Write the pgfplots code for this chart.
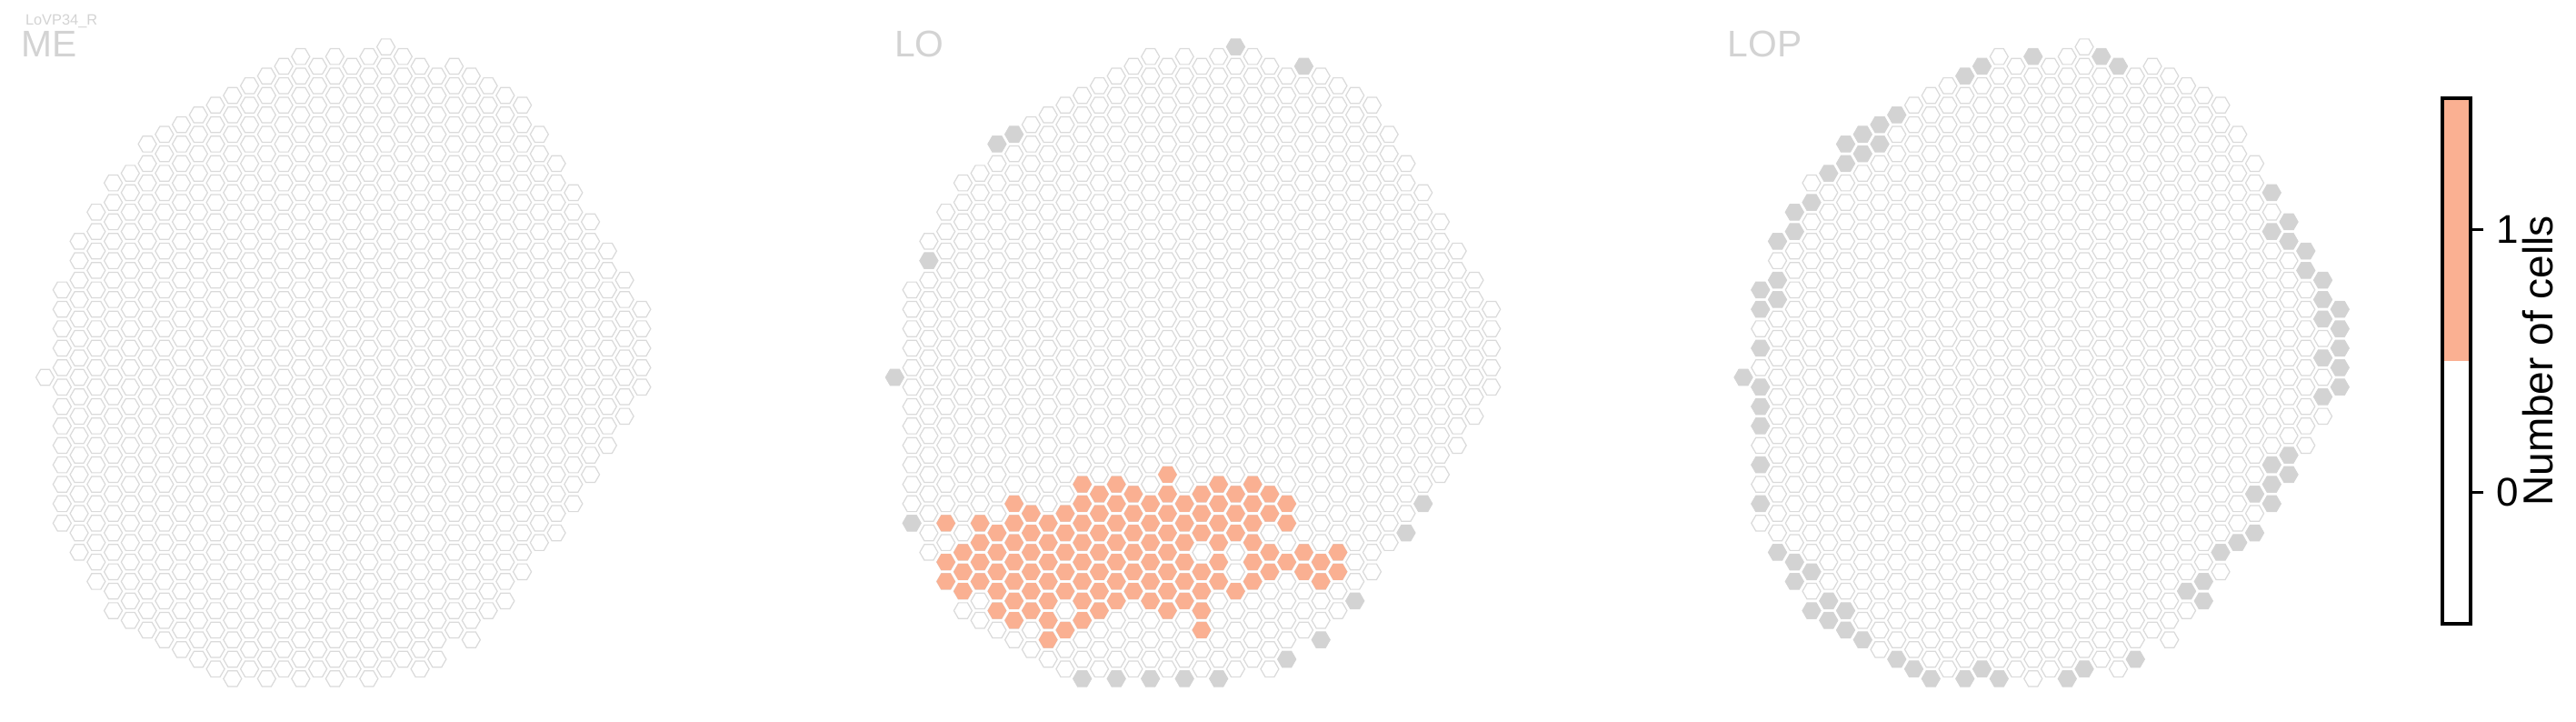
\documentclass[border=0pt]{standalone}
\usepackage{fontspec}
\setmainfont{Liberation Sans}
\usepackage{pgfplots}
\pgfplotsset{compat=1.18}
\usepackage{pgfplotstable}
\definecolor{salmon}{RGB}{250,176,146}
\definecolor{cgray}{RGB}{211,211,211}
\definecolor{hexedge}{RGB}{218,218,218}
\definecolor{titlegray}{RGB}{211,211,211}

\pgfdeclareplotmark{hexo}{%
 \pgfpathmoveto{\pgfqpoint{\pgfplotmarksize}{0pt}}%
 \pgfpathlineto{\pgfqpoint{0.5\pgfplotmarksize}{0.8660254\pgfplotmarksize}}%
 \pgfpathlineto{\pgfqpoint{-0.5\pgfplotmarksize}{0.8660254\pgfplotmarksize}}%
 \pgfpathlineto{\pgfqpoint{-\pgfplotmarksize}{0pt}}%
 \pgfpathlineto{\pgfqpoint{-0.5\pgfplotmarksize}{-0.8660254\pgfplotmarksize}}%
 \pgfpathlineto{\pgfqpoint{0.5\pgfplotmarksize}{-0.8660254\pgfplotmarksize}}%
 \pgfpathclose
 \pgfusepathqfillstroke}
\pgfdeclareplotmark{hexf}{%
 \pgfpathmoveto{\pgfqpoint{\pgfplotmarksize}{0pt}}%
 \pgfpathlineto{\pgfqpoint{0.5\pgfplotmarksize}{0.8660254\pgfplotmarksize}}%
 \pgfpathlineto{\pgfqpoint{-0.5\pgfplotmarksize}{0.8660254\pgfplotmarksize}}%
 \pgfpathlineto{\pgfqpoint{-\pgfplotmarksize}{0pt}}%
 \pgfpathlineto{\pgfqpoint{-0.5\pgfplotmarksize}{-0.8660254\pgfplotmarksize}}%
 \pgfpathlineto{\pgfqpoint{0.5\pgfplotmarksize}{-0.8660254\pgfplotmarksize}}%
 \pgfpathclose
 \pgfusepathqfill}

% full column grid (column c, half-row h)
\pgfplotstableread[row sep=\\]{c h\\
0 0\\
1 9\\1 7\\1 5\\1 3\\1 1\\1 -1\\1 -3\\1 -5\\1 -7\\1 -9\\1 -11\\1 -13\\1 -15\\
2 14\\2 12\\2 10\\2 8\\2 6\\2 4\\2 2\\2 0\\2 -2\\2 -4\\2 -6\\2 -8\\2 -10\\2 -12\\2 -14\\2 -16\\2 -18\\
3 17\\3 15\\3 13\\3 11\\3 9\\3 7\\3 5\\3 3\\3 1\\3 -1\\3 -3\\3 -5\\3 -7\\3 -9\\3 -11\\3 -13\\3 -15\\3 -17\\3 -19\\3 -21\\
4 20\\4 18\\4 16\\4 14\\4 12\\4 10\\4 8\\4 6\\4 4\\4 2\\4 0\\4 -2\\4 -4\\4 -6\\4 -8\\4 -10\\4 -12\\4 -14\\4 -16\\4 -18\\4 -20\\4 -22\\4 -24\\
5 21\\5 19\\5 17\\5 15\\5 13\\5 11\\5 9\\5 7\\5 5\\5 3\\5 1\\5 -1\\5 -3\\5 -5\\5 -7\\5 -9\\5 -11\\5 -13\\5 -15\\5 -17\\5 -19\\5 -21\\5 -23\\5 -25\\
6 24\\6 22\\6 20\\6 18\\6 16\\6 14\\6 12\\6 10\\6 8\\6 6\\6 4\\6 2\\6 0\\6 -2\\6 -4\\6 -6\\6 -8\\6 -10\\6 -12\\6 -14\\6 -16\\6 -18\\6 -20\\6 -22\\6 -24\\6 -26\\
7 25\\7 23\\7 21\\7 19\\7 17\\7 15\\7 13\\7 11\\7 9\\7 7\\7 5\\7 3\\7 1\\7 -1\\7 -3\\7 -5\\7 -7\\7 -9\\7 -11\\7 -13\\7 -15\\7 -17\\7 -19\\7 -21\\7 -23\\7 -25\\7 -27\\
8 26\\8 24\\8 22\\8 20\\8 18\\8 16\\8 14\\8 12\\8 10\\8 8\\8 6\\8 4\\8 2\\8 0\\8 -2\\8 -4\\8 -6\\8 -8\\8 -10\\8 -12\\8 -14\\8 -16\\8 -18\\8 -20\\8 -22\\8 -24\\8 -26\\8 -28\\
9 27\\9 25\\9 23\\9 21\\9 19\\9 17\\9 15\\9 13\\9 11\\9 9\\9 7\\9 5\\9 3\\9 1\\9 -1\\9 -3\\9 -5\\9 -7\\9 -9\\9 -11\\9 -13\\9 -15\\9 -17\\9 -19\\9 -21\\9 -23\\9 -25\\9 -27\\9 -29\\
10 28\\10 26\\10 24\\10 22\\10 20\\10 18\\10 16\\10 14\\10 12\\10 10\\10 8\\10 6\\10 4\\10 2\\10 0\\10 -2\\10 -4\\10 -6\\10 -8\\10 -10\\10 -12\\10 -14\\10 -16\\10 -18\\10 -20\\10 -22\\10 -24\\10 -26\\10 -28\\10 -30\\
11 29\\11 27\\11 25\\11 23\\11 21\\11 19\\11 17\\11 15\\11 13\\11 11\\11 9\\11 7\\11 5\\11 3\\11 1\\11 -1\\11 -3\\11 -5\\11 -7\\11 -9\\11 -11\\11 -13\\11 -15\\11 -17\\11 -19\\11 -21\\11 -23\\11 -25\\11 -27\\11 -29\\11 -31\\
12 30\\12 28\\12 26\\12 24\\12 22\\12 20\\12 18\\12 16\\12 14\\12 12\\12 10\\12 8\\12 6\\12 4\\12 2\\12 0\\12 -2\\12 -4\\12 -6\\12 -8\\12 -10\\12 -12\\12 -14\\12 -16\\12 -18\\12 -20\\12 -22\\12 -24\\12 -26\\12 -28\\12 -30\\
13 31\\13 29\\13 27\\13 25\\13 23\\13 21\\13 19\\13 17\\13 15\\13 13\\13 11\\13 9\\13 7\\13 5\\13 3\\13 1\\13 -1\\13 -3\\13 -5\\13 -7\\13 -9\\13 -11\\13 -13\\13 -15\\13 -17\\13 -19\\13 -21\\13 -23\\13 -25\\13 -27\\13 -29\\13 -31\\
14 32\\14 30\\14 28\\14 26\\14 24\\14 22\\14 20\\14 18\\14 16\\14 14\\14 12\\14 10\\14 8\\14 6\\14 4\\14 2\\14 0\\14 -2\\14 -4\\14 -6\\14 -8\\14 -10\\14 -12\\14 -14\\14 -16\\14 -18\\14 -20\\14 -22\\14 -24\\14 -26\\14 -28\\14 -30\\
15 33\\15 31\\15 29\\15 27\\15 25\\15 23\\15 21\\15 19\\15 17\\15 15\\15 13\\15 11\\15 9\\15 7\\15 5\\15 3\\15 1\\15 -1\\15 -3\\15 -5\\15 -7\\15 -9\\15 -11\\15 -13\\15 -15\\15 -17\\15 -19\\15 -21\\15 -23\\15 -25\\15 -27\\15 -29\\15 -31\\
16 32\\16 30\\16 28\\16 26\\16 24\\16 22\\16 20\\16 18\\16 16\\16 14\\16 12\\16 10\\16 8\\16 6\\16 4\\16 2\\16 0\\16 -2\\16 -4\\16 -6\\16 -8\\16 -10\\16 -12\\16 -14\\16 -16\\16 -18\\16 -20\\16 -22\\16 -24\\16 -26\\16 -28\\16 -30\\
17 33\\17 31\\17 29\\17 27\\17 25\\17 23\\17 21\\17 19\\17 17\\17 15\\17 13\\17 11\\17 9\\17 7\\17 5\\17 3\\17 1\\17 -1\\17 -3\\17 -5\\17 -7\\17 -9\\17 -11\\17 -13\\17 -15\\17 -17\\17 -19\\17 -21\\17 -23\\17 -25\\17 -27\\17 -29\\17 -31\\
18 32\\18 30\\18 28\\18 26\\18 24\\18 22\\18 20\\18 18\\18 16\\18 14\\18 12\\18 10\\18 8\\18 6\\18 4\\18 2\\18 0\\18 -2\\18 -4\\18 -6\\18 -8\\18 -10\\18 -12\\18 -14\\18 -16\\18 -18\\18 -20\\18 -22\\18 -24\\18 -26\\18 -28\\18 -30\\
19 33\\19 31\\19 29\\19 27\\19 25\\19 23\\19 21\\19 19\\19 17\\19 15\\19 13\\19 11\\19 9\\19 7\\19 5\\19 3\\19 1\\19 -1\\19 -3\\19 -5\\19 -7\\19 -9\\19 -11\\19 -13\\19 -15\\19 -17\\19 -19\\19 -21\\19 -23\\19 -25\\19 -27\\19 -29\\19 -31\\
20 34\\20 32\\20 30\\20 28\\20 26\\20 24\\20 22\\20 20\\20 18\\20 16\\20 14\\20 12\\20 10\\20 8\\20 6\\20 4\\20 2\\20 0\\20 -2\\20 -4\\20 -6\\20 -8\\20 -10\\20 -12\\20 -14\\20 -16\\20 -18\\20 -20\\20 -22\\20 -24\\20 -26\\20 -28\\20 -30\\
21 33\\21 31\\21 29\\21 27\\21 25\\21 23\\21 21\\21 19\\21 17\\21 15\\21 13\\21 11\\21 9\\21 7\\21 5\\21 3\\21 1\\21 -1\\21 -3\\21 -5\\21 -7\\21 -9\\21 -11\\21 -13\\21 -15\\21 -17\\21 -19\\21 -21\\21 -23\\21 -25\\21 -27\\21 -29\\
22 32\\22 30\\22 28\\22 26\\22 24\\22 22\\22 20\\22 18\\22 16\\22 14\\22 12\\22 10\\22 8\\22 6\\22 4\\22 2\\22 0\\22 -2\\22 -4\\22 -6\\22 -8\\22 -10\\22 -12\\22 -14\\22 -16\\22 -18\\22 -20\\22 -22\\22 -24\\22 -26\\22 -28\\22 -30\\
23 31\\23 29\\23 27\\23 25\\23 23\\23 21\\23 19\\23 17\\23 15\\23 13\\23 11\\23 9\\23 7\\23 5\\23 3\\23 1\\23 -1\\23 -3\\23 -5\\23 -7\\23 -9\\23 -11\\23 -13\\23 -15\\23 -17\\23 -19\\23 -21\\23 -23\\23 -25\\23 -27\\23 -29\\
24 32\\24 30\\24 28\\24 26\\24 24\\24 22\\24 20\\24 18\\24 16\\24 14\\24 12\\24 10\\24 8\\24 6\\24 4\\24 2\\24 0\\24 -2\\24 -4\\24 -6\\24 -8\\24 -10\\24 -12\\24 -14\\24 -16\\24 -18\\24 -20\\24 -22\\24 -24\\24 -26\\
25 31\\25 29\\25 27\\25 25\\25 23\\25 21\\25 19\\25 17\\25 15\\25 13\\25 11\\25 9\\25 7\\25 5\\25 3\\25 1\\25 -1\\25 -3\\25 -5\\25 -7\\25 -9\\25 -11\\25 -13\\25 -15\\25 -17\\25 -19\\25 -21\\25 -23\\25 -25\\25 -27\\
26 30\\26 28\\26 26\\26 24\\26 22\\26 20\\26 18\\26 16\\26 14\\26 12\\26 10\\26 8\\26 6\\26 4\\26 2\\26 0\\26 -2\\26 -4\\26 -6\\26 -8\\26 -10\\26 -12\\26 -14\\26 -16\\26 -18\\26 -20\\26 -22\\26 -24\\
27 29\\27 27\\27 25\\27 23\\27 21\\27 19\\27 17\\27 15\\27 13\\27 11\\27 9\\27 7\\27 5\\27 3\\27 1\\27 -1\\27 -3\\27 -5\\27 -7\\27 -9\\27 -11\\27 -13\\27 -15\\27 -17\\27 -19\\27 -21\\27 -23\\
28 28\\28 26\\28 24\\28 22\\28 20\\28 18\\28 16\\28 14\\28 12\\28 10\\28 8\\28 6\\28 4\\28 2\\28 0\\28 -2\\28 -4\\28 -6\\28 -8\\28 -10\\28 -12\\28 -14\\28 -16\\28 -18\\28 -20\\
29 25\\29 23\\29 21\\29 19\\29 17\\29 15\\29 13\\29 11\\29 9\\29 7\\29 5\\29 3\\29 1\\29 -1\\29 -3\\29 -5\\29 -7\\29 -9\\29 -11\\29 -13\\29 -15\\29 -17\\
30 22\\30 20\\30 18\\30 16\\30 14\\30 12\\30 10\\30 8\\30 6\\30 4\\30 2\\30 0\\30 -2\\30 -4\\30 -6\\30 -8\\30 -10\\30 -12\\30 -14\\30 -16\\
31 19\\31 17\\31 15\\31 13\\31 11\\31 9\\31 7\\31 5\\31 3\\31 1\\31 -1\\31 -3\\31 -5\\31 -7\\31 -9\\31 -11\\31 -13\\
32 16\\32 14\\32 12\\32 10\\32 8\\32 6\\32 4\\32 2\\32 0\\32 -2\\32 -4\\32 -6\\32 -8\\32 -10\\
33 13\\33 11\\33 9\\33 7\\33 5\\33 3\\33 1\\33 -1\\33 -3\\33 -5\\33 -7\\
34 10\\34 8\\34 6\\34 4\\34 2\\34 0\\34 -2\\34 -4\\
35 7\\35 5\\35 3\\35 1\\35 -1\\
}\gridtab

% LO: columns with one cell
\pgfplotstableread[row sep=\\]{c h\\
16 -10\\
11 -11\\13 -11\\19 -11\\21 -11\\
12 -12\\14 -12\\16 -12\\18 -12\\20 -12\\22 -12\\
7 -13\\11 -13\\13 -13\\15 -13\\17 -13\\19 -13\\21 -13\\23 -13\\
8 -14\\10 -14\\12 -14\\14 -14\\16 -14\\18 -14\\20 -14\\22 -14\\
3 -15\\5 -15\\7 -15\\9 -15\\11 -15\\13 -15\\15 -15\\17 -15\\19 -15\\21 -15\\23 -15\\
6 -16\\8 -16\\10 -16\\12 -16\\14 -16\\16 -16\\18 -16\\20 -16\\
5 -17\\7 -17\\9 -17\\11 -17\\13 -17\\15 -17\\17 -17\\19 -17\\21 -17\\
4 -18\\6 -18\\8 -18\\10 -18\\12 -18\\14 -18\\16 -18\\22 -18\\24 -18\\26 -18\\
3 -19\\5 -19\\7 -19\\9 -19\\11 -19\\13 -19\\15 -19\\17 -19\\19 -19\\21 -19\\23 -19\\25 -19\\
4 -20\\6 -20\\8 -20\\10 -20\\12 -20\\14 -20\\16 -20\\18 -20\\22 -20\\24 -20\\26 -20\\
3 -21\\5 -21\\7 -21\\9 -21\\11 -21\\13 -21\\15 -21\\17 -21\\19 -21\\21 -21\\25 -21\\
4 -22\\6 -22\\8 -22\\10 -22\\12 -22\\14 -22\\16 -22\\18 -22\\20 -22\\
7 -23\\9 -23\\11 -23\\13 -23\\15 -23\\17 -23\\
6 -24\\8 -24\\12 -24\\16 -24\\18 -24\\
7 -25\\9 -25\\11 -25\\
10 -26\\18 -26\\
9 -27\\
}\losalmon

% LO: columns outside the region
\pgfplotstableread[row sep=\\]{c h\\
20 34\\24 32\\7 25\\6 24\\2 12\\0 0\\1 -15\\31 -13\\30 -16\\27 -23\\25 -27\\23 -29\\
11 -31\\13 -31\\15 -31\\17 -31\\19 -31\\
}\logray

% LOP: columns outside the region
\pgfplotstableread[row sep=\\]{c h\\
17 33\\21 33\\22 32\\14 32\\13 31\\9 27\\8 26\\7 25\\6 24\\7 23\\8 24\\6 22\\5 21\\
4 18\\3 17\\3 15\\2 14\\2 10\\1 9\\2 8\\1 7\\1 3\\0 0\\1 -1\\1 -3\\1 -5\\1 -9\\1 -13\\
2 -18\\3 -19\\4 -20\\3 -21\\5 -23\\4 -24\\6 -24\\5 -25\\6 -26\\7 -27\\9 -29\\10 -30\\
11 -31\\13 -31\\14 -30\\15 -31\\19 -31\\20 -30\\23 -29\\
31 19\\32 16\\31 15\\32 14\\33 13\\33 11\\34 10\\34 8\\35 7\\34 6\\35 5\\35 3\\34 2\\35 1\\
35 -1\\34 -2\\32 -8\\31 -9\\32 -10\\31 -11\\30 -12\\31 -13\\30 -16\\29 -17\\28 -18\\
27 -21\\26 -22\\27 -23\\
}\lopgray

\pgfplotsset{
 hexgrid/.style={hide axis, x=4.6875pt, y=2.6725pt, xmin=-1, xmax=36, ymin=-33, ymax=36,
   clip=false, anchor=origin},
 whitehex/.style={only marks, mark=hexo, mark size=2.5pt,
   mark options={fill=white, draw=hexedge, line width=0.3pt}},
 filledhex/.style={only marks, mark=hexf, mark size=2.6pt, mark options={fill=#1}},
}

\begin{document}
\begin{tikzpicture}
\path[use as bounding box] (0,0) rectangle (708.5pt,198.25pt);

% ME
\begin{axis}[hexgrid, at={(12.4pt,94.5pt)}]
\addplot[whitehex] table[x=c,y=h] {\gridtab};
\end{axis}

% LO
\begin{axis}[hexgrid, at={(246.1pt,94.5pt)}]
\addplot[whitehex] table[x=c,y=h] {\gridtab};
\addplot[filledhex=cgray] table[x=c,y=h] {\logray};
\addplot[filledhex=salmon] table[x=c,y=h] {\losalmon};
\end{axis}

% LOP
\begin{axis}[hexgrid, at={(479.5pt,94.5pt)}]
\addplot[whitehex] table[x=c,y=h] {\gridtab};
\addplot[filledhex=cgray] table[x=c,y=h] {\lopgray};
\end{axis}

% titles
\node[anchor=base west, inner sep=0pt, text=titlegray, font=\fontsize{4.1}{5}\selectfont] at (6.8pt,191.3pt) {LoVP34\_R};
\node[anchor=base west, inner sep=0pt, text=titlegray, font=\fontsize{10.2}{12}\selectfont] at (5.6pt,182.6pt) {ME};
\node[anchor=base west, inner sep=0pt, text=titlegray, font=\fontsize{10.2}{12}\selectfont] at (245.8pt,182.6pt) {LO};
\node[anchor=base west, inner sep=0pt, text=titlegray, font=\fontsize{10.2}{12}\selectfont] at (475.0pt,182.6pt) {LOP};

% colour bar
\begin{axis}[at={(671.75pt,26.75pt)}, anchor=south west, scale only axis,
  width=7.75pt, height=144.5pt, xmin=0, xmax=1, ymin=-0.5, ymax=1.5,
  xtick=\empty, ytick={0,1}, yticklabels={0,1}, ytick pos=right, yticklabel pos=right,
  tick align=outside, major tick length=3.5pt,
  axis line style={line width=0.9pt},
  every tick/.style={black, line width=0.9pt},
  /pgf/number format/assume math mode=true,
  tick label style={font=\fontsize{11}{13}\selectfont},
  every axis y label/.style={at={(axis description cs:3.39,0.5)}, rotate=90, anchor=center,
    font=\fontsize{11.5}{13}\selectfont},
  ylabel={Number of cells}, axis on top]
\addplot[fill=salmon, draw=none] coordinates {(0,0.5) (1,0.5) (1,1.5) (0,1.5)};
\end{axis}
\end{tikzpicture}
\end{document}
